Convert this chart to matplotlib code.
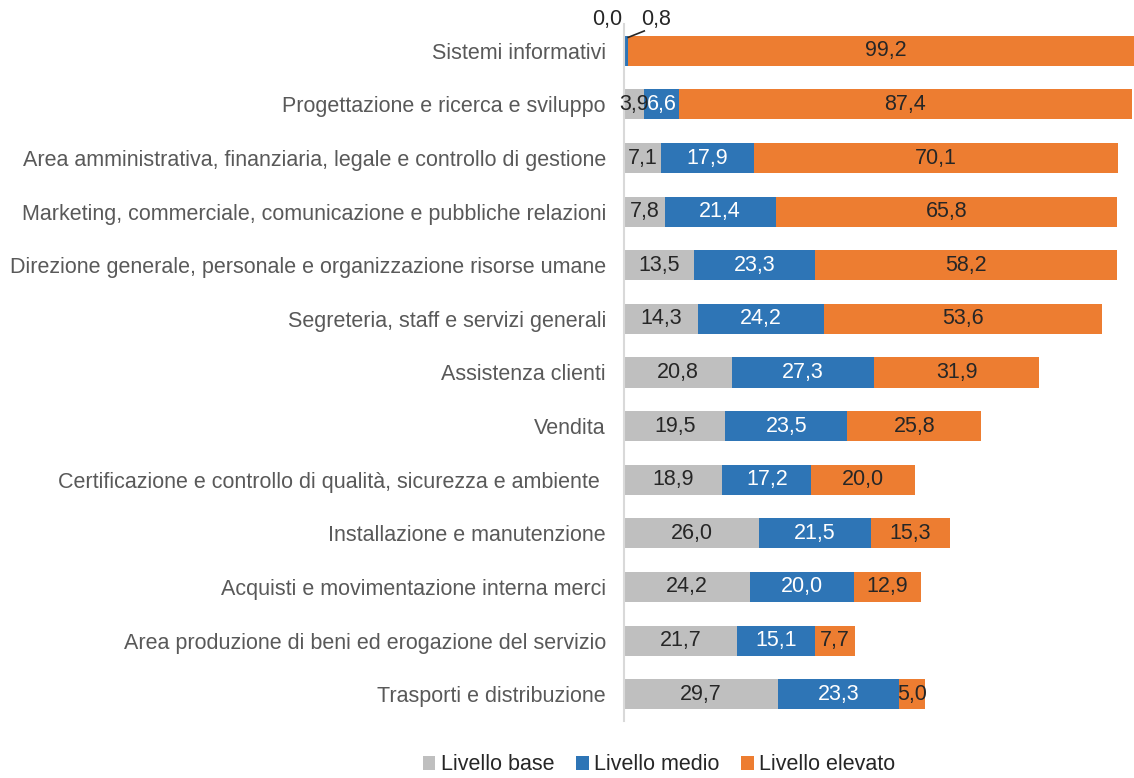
import matplotlib
matplotlib.use("Agg")
import matplotlib.pyplot as plt
import numpy as np

categories = [
    "Sistemi informativi",
    "Progettazione e ricerca e sviluppo",
    "Area amministrativa, finanziaria, legale e controllo di gestione",
    "Marketing, commerciale, comunicazione e pubbliche relazioni",
    "Direzione generale, personale e organizzazione risorse umane",
    "Segreteria, staff e servizi generali",
    "Assistenza clienti",
    "Vendita",
    "Certificazione e controllo di qualità, sicurezza e ambiente ",
    "Installazione e manutenzione",
    "Acquisti e movimentazione interna merci",
    "Area produzione di beni ed erogazione del servizio",
    "Trasporti e distribuzione",
]
base = [0.0, 3.9, 7.1, 7.8, 13.5, 14.3, 20.8, 19.5, 18.9, 26.0, 24.2, 21.7, 29.7]
medio = [0.8, 6.6, 17.9, 21.4, 23.3, 24.2, 27.3, 23.5, 17.2, 21.5, 20.0, 15.1, 23.3]
elevato = [99.2, 87.4, 70.1, 65.8, 58.2, 53.6, 31.9, 25.8, 20.0, 15.3, 12.9, 7.7, 5.0]
series_names = ["Livello base", "Livello medio", "Livello elevato"]
colors = ["#BFBFBF", "#2E75B6", "#ED7D31"]
text_colors = ["#262626", "white", "#262626"]

plt.rcParams['font.family'] = ['Liberation Sans', 'DejaVu Sans']

W, H = 1134, 778
fig = plt.figure(figsize=(W / 100, H / 100), dpi=100)
ax = fig.add_axes([624 / W, 1 - 721 / H, (W - 624) / W, (721 - 24) / H])

y = np.arange(len(categories))
left = np.zeros(len(categories))
fs = 15.5
for vals, c, tc, name in zip([base, medio, elevato], colors, text_colors, series_names):
    vals = np.array(vals)
    ax.barh(y, vals, left=left, height=0.56, color=c, label=name)
    for i, (v, l) in enumerate(zip(vals, left)):
        if i == 0 and name != "Livello elevato":
            continue
        ax.text(l + v / 2, i, f"{v:.1f}".replace(".", ","), ha="center", va="center",
                color=tc, fontsize=fs)
    left = left + vals

# small labels for the first row
ax.text(-3.3, -0.58, f"{base[0]:.1f}".replace(".", ","), ha="center", va="center",
        fontsize=fs, color="#262626", clip_on=False)
ax.text(6.2, -0.58, f"{medio[0]:.1f}".replace(".", ","), ha="center", va="center",
        fontsize=fs, color="#262626", clip_on=False)
ax.plot([0.8, 3.9], [-0.25, -0.37], color="#262626", lw=1.2, clip_on=False)

ax.set_xlim(0, 98.2)
ax.set_ylim(len(categories) - 0.5, -0.5)
ax.set_yticks(y)
ax.set_yticklabels(categories, fontsize=fs, color="#595959")
ax.tick_params(axis="y", length=0, pad=13)
ax.set_xticks([])
for s in ["top", "right", "bottom"]:
    ax.spines[s].set_visible(False)
ax.spines["left"].set_color("#D9D9D9")
ax.spines["left"].set_linewidth(1.5)

leg = fig.legend(loc="center", bbox_to_anchor=(659 / W, 1 - 765 / H), ncol=3, frameon=False,
                 fontsize=fs, handlelength=0.6, handleheight=0.6, handletextpad=0.25,
                 columnspacing=1.0, borderpad=0.1)
for t in leg.get_texts():
    t.set_color("#262626")

fig.savefig("out.png", dpi=100)
